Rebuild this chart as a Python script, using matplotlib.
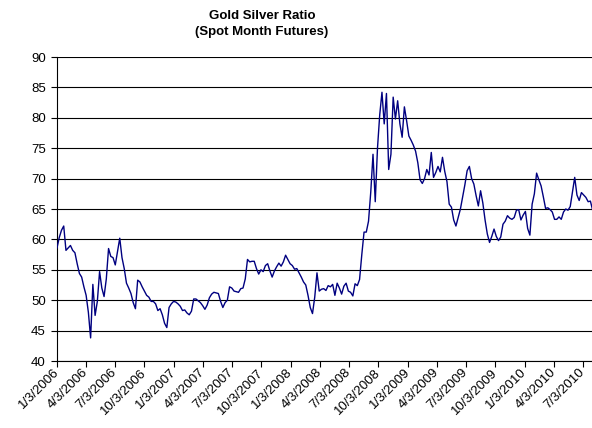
import matplotlib
matplotlib.use('Agg')
import matplotlib.pyplot as plt
import pandas as pd

# weekly readings of the gold/silver ratio, starting 3 Jan 2006
start_date = '2006-01-03'
ratio = [
    58.6, 60.3, 61.5, 62.2, 58.2, 58.6, 59.0, 58.2, 57.8, 56.0,
    54.4, 53.8, 52.2, 50.8, 48.0, 43.8, 52.6, 47.5, 49.8, 54.7,
    52.0, 50.6, 53.5, 58.5, 57.2, 57.0, 55.8, 58.0, 60.2, 57.0,
    55.2, 52.8, 52.0, 51.1, 49.6, 48.6, 53.3, 53.0, 52.2, 51.5,
    50.8, 50.5, 49.8, 49.8, 49.4, 48.3, 48.6, 47.6, 46.2, 45.5,
    48.8, 49.4, 49.8, 49.7, 49.4, 49.0, 48.3, 48.4, 47.9, 47.6,
    48.2, 50.2, 50.2, 49.9, 49.6, 49.1, 48.5, 49.2, 50.4, 51.0,
    51.3, 51.2, 51.1, 49.8, 48.8, 49.6, 50.0, 52.2, 52.0, 51.5,
    51.4, 51.3, 51.9, 52.0, 53.5, 56.7, 56.3, 56.4, 56.4, 55.2,
    54.3, 55.0, 54.7, 55.7, 56.0, 54.8, 53.8, 54.8, 55.5, 56.1,
    55.6, 56.3, 57.4, 56.7, 56.0, 55.7, 55.1, 55.2, 54.5, 53.8,
    53.0, 52.5, 50.8, 48.8, 47.8, 50.5, 54.5, 51.5, 51.8, 51.9,
    51.6, 52.4, 52.2, 52.6, 50.8, 52.8, 52.0, 51.0, 52.3, 52.8,
    51.5, 51.3, 50.7, 52.7, 52.4, 53.4, 57.5, 61.2, 61.2, 63.0,
    67.8, 74.0, 66.2, 75.0, 80.5, 84.2, 79.0, 84.0, 71.5, 74.0,
    83.4, 79.8, 82.8, 79.0, 76.8, 81.8, 79.5, 77.0, 76.3, 75.5,
    74.5, 72.6, 69.8, 69.2, 70.0, 71.5, 70.6, 74.3, 70.2, 71.0,
    72.0, 71.1, 73.5, 71.2, 69.5, 65.8, 65.3, 63.2, 62.2, 63.6,
    65.0, 67.0, 69.0, 71.3, 72.0, 70.0, 69.1, 67.2, 65.5, 68.0,
    66.0, 63.2, 60.9, 59.5, 60.5, 61.7, 60.5, 59.8, 60.4, 62.5,
    63.0, 63.9, 63.5, 63.3, 63.6, 64.8, 64.9, 63.2, 64.0, 64.6,
    61.8, 60.7, 65.8, 67.5, 70.9, 69.8, 68.8, 67.0, 65.1, 65.2,
    64.9, 64.5, 63.3, 63.3, 63.7, 63.3, 64.5, 65.0, 64.8, 65.4,
    67.8, 70.2, 67.3, 66.4, 67.7, 67.3, 66.9, 66.2, 66.3, 64.8,
]
tick_labels = ['1/3/2006', '4/3/2006', '7/3/2006', '10/3/2006',
               '1/3/2007', '4/3/2007', '7/3/2007', '10/3/2007',
               '1/3/2008', '4/3/2008', '7/3/2008', '10/3/2008',
               '1/3/2009', '4/3/2009', '7/3/2009', '10/3/2009',
               '1/3/2010', '4/3/2010', '7/3/2010']
end_date = '2010-08-01'
title = 'Gold Silver Ratio\n(Spot Month Futures)'

dates = pd.date_range(start_date, periods=len(ratio), freq='7D')
ticks = pd.to_datetime(tick_labels, format='%m/%d/%Y')

plt.rcParams['font.family'] = ['Liberation Sans', 'DejaVu Sans']

fig = plt.figure(figsize=(5.92, 4.28), dpi=100)
ax = fig.add_axes([57/592, 1 - 361/428, 1 - 57/592, (361 - 57)/428])

ax.plot(dates, ratio, color='#000080', lw=1.0, zorder=3)

ax.set_ylim(40, 90)
ax.set_yticks(range(40, 95, 5))
ax.set_xlim(ticks[0], pd.Timestamp(end_date))
ax.set_xticks(ticks)
ax.set_xticklabels(tick_labels, rotation=45, ha='right', va='center',
                   rotation_mode='anchor')

ax.grid(axis='y', color='black', lw=0.8)
ax.set_axisbelow(True)
for s in ['top', 'right']:
    ax.spines[s].set_visible(False)
for s in ['left', 'bottom']:
    ax.spines[s].set_linewidth(0.8)
    ax.spines[s].set_color('black')

ax.tick_params(axis='both', direction='out', length=4, width=0.8,
               colors='black', labelsize=9.5)
ax.tick_params(axis='y', pad=4)
ax.tick_params(axis='x', pad=3)

fig.text(262/592, 1 - 10/428, title, ha='center', va='top',
         fontsize=9.5, fontweight='bold', linespacing=1.4)

fig.savefig('out.png', dpi=100)
